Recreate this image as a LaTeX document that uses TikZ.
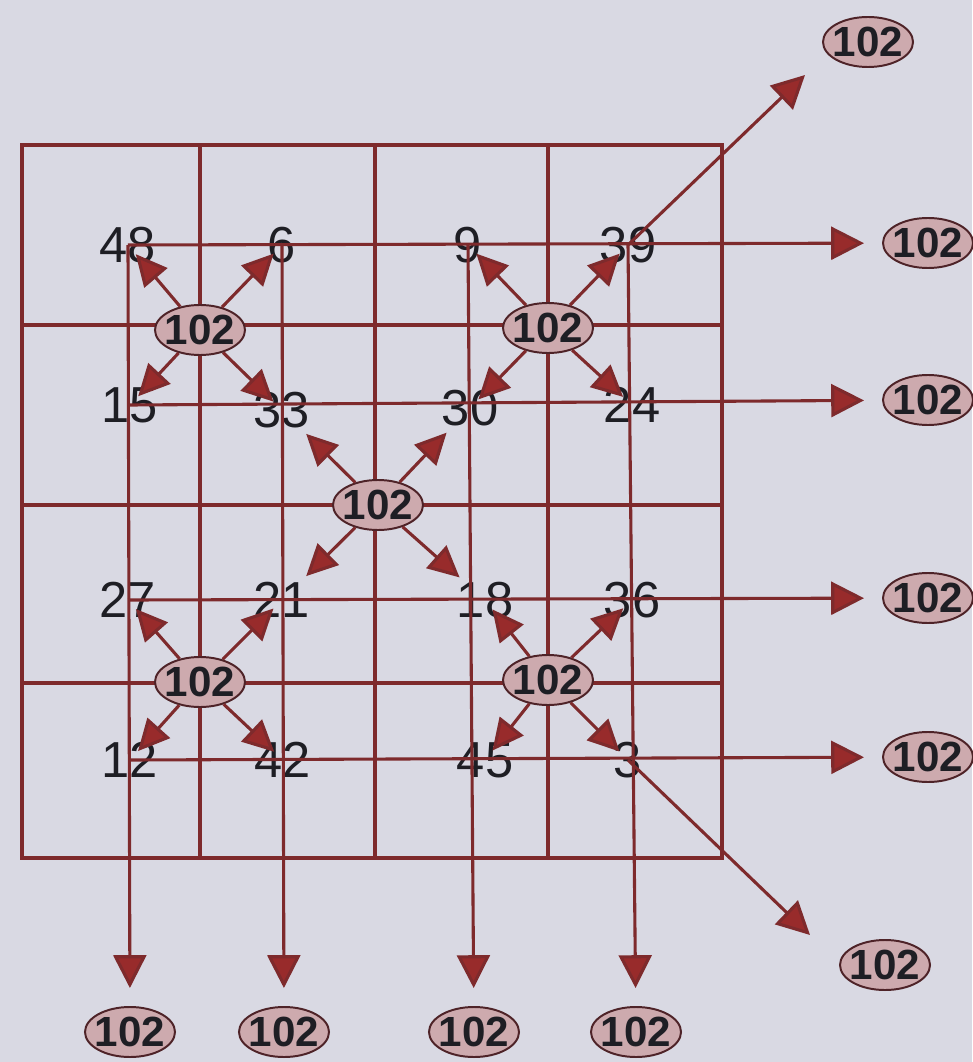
\documentclass[tikz,border=0pt]{standalone}
\usepackage{fontspec}
\setmainfont{Liberation Sans}
\usepackage{tikz}
\usetikzlibrary{positioning}
\usetikzlibrary{shapes,calc,arrows.meta}
\definecolor{paper}{HTML}{D9D9E3}
\definecolor{gridred}{HTML}{7E2A2C}
\definecolor{tipred}{HTML}{982B2B}
\definecolor{ovalfill}{HTML}{CDAAAE}
\definecolor{ovalrim}{HTML}{4E2328}
\definecolor{ink}{HTML}{1E1E24}
\tikzset{
	x = 0.025cm, y = -0.025cm,
	cell/.style = {draw=gridred, line width=2.5pt},
	num/.style = {text=ink, inner sep=0pt, font=\fontsize{36}{36}\selectfont},
	sum/.style = {ellipse, draw=ovalrim, fill=ovalfill, line width=1.4pt,
	 text=ink, inner xsep=-3pt, inner ysep=0pt,
	 minimum width=2.25cm, minimum height=1.25cm,
	 font=\bfseries\fontsize{30}{30}\selectfont},
	spoke/.style = {draw=gridred, line width=2.2pt, shorten >=0.3cm,
	 -{Triangle[length=0.78cm, width=0.75cm, fill=tipred]}},
	longspoke/.style = {spoke, shorten >=0.85cm},
	ray/.style = {spoke, shorten >=0.45cm,
	 -{Triangle[length=0.82cm, width=0.82cm, fill=tipred]}},
}

\begin{document}
\begin{tikzpicture}
	\path[use as bounding box, fill=paper] (0,0) rectangle (972,1062);
	% the 4 x 4 square
	\draw[cell] (22,145) rectangle (722,858);
	\draw[cell] (200,145) -- (200,858);
	\draw[cell] (375,145) -- (375,858);
	\draw[cell] (548,145) -- (548,858);
	\draw[cell] (22,325) -- (722,325);
	\draw[cell] (22,505) -- (722,505);
	\draw[cell] (22,683) -- (722,683);

	% numbers
	\node (N48) [num] at (128,245) {48};
	\node (N6)  [num] at (282,245) {6};
	\node (N9)  [num] at (468,245) {9};
	\node (N39) [num] at (628,245) {39};
	\node (N15) [num] at (130,405) {15};
	\node (N33) [num] at (282,410) {33};
	\node (N30) [num] at (470,408) {30};
	\node (N24) [num] at (632,405) {24};
	\node (N27) [num] at (128,600) {27};
	\node (N21) [num] at (282,600) {21};
	\node (N18) [num] at (485,600) {18};
	\node (N36) [num] at (632,600) {36};
	\node (N12) [num] at (130,760) {12};
	\node (N42) [num] at (283,760) {42};
	\node (N45) [num] at (485,760) {45};
	\node (N3)  [num] at (628,760) {3};

	% sums inside the square
	\node (SumTL) [sum] at (200,330) {102};
	\node (SumTR) [sum] at (548,328) {102};
	\node (SumC)  [sum] at (378,505) {102};
	\node (SumBL) [sum] at (200,682) {102};
	\node (SumBR) [sum] at (548,680) {102};

	% sums outside
	\node (Row1) [sum] at (928,243) {102};
	\node (Row2) [sum] at (928,400) {102};
	\node (Row3) [sum] at (928,598) {102};
	\node (Row4) [sum] at (928,757) {102};
	\node (Col1) [sum] at (130,1032) {102};
	\node (Col2) [sum] at (284,1032) {102};
	\node (Col3) [sum] at (474,1032) {102};
	\node (Col4) [sum] at (636,1032) {102};
	\node (DiagUp)   [sum] at (868,42) {102};
	\node (DiagDown) [sum] at (885,965) {102};
	\coordinate (DiagUpTip) at (805,75);
	\coordinate (DiagDownTip) at (810,935);

	% rows, columns, diagonals
	\path (N48.center) edge [ray] (Row1);
	\path (N15.center) edge [ray] (Row2);
	\path (N27.center) edge [ray] (Row3);
	\path (N12.center) edge [ray] (Row4);
	\path (N48.center) edge [ray] (Col1);
	\path (N6.center)  edge [ray] (Col2);
	\path (N9.center)  edge [ray] (Col3);
	\path (N39.center) edge [ray] (Col4);
	\path (N39.center) edge [ray, shorten >=0pt] (DiagUpTip);
	\path (N3.center)  edge [ray, shorten >=0pt] (DiagDownTip);

	% small squares
	\path (SumTL) edge [spoke] (N48.center);
	\path (SumTL) edge [spoke] (N6.center);
	\path (SumTL) edge [spoke] (N15.center);
	\path (SumTL) edge [spoke] (N33.center);
	\path (SumTR) edge [spoke] (N9.center);
	\path (SumTR) edge [spoke] (N39.center);
	\path (SumTR) edge [spoke] (N30.center);
	\path (SumTR) edge [spoke] (N24.center);
	\path (SumC) edge [longspoke] (N33.center);
	\path (SumC) edge [longspoke] (N30.center);
	\path (SumC) edge [longspoke] (N21.center);
	\path (SumC) edge [longspoke] (N18.center);
	\path (SumBL) edge [spoke] (N27.center);
	\path (SumBL) edge [spoke] (N21.center);
	\path (SumBL) edge [spoke] (N12.center);
	\path (SumBL) edge [spoke] (N42.center);
	\path (SumBR) edge [spoke] (N18.center);
	\path (SumBR) edge [spoke] (N36.center);
	\path (SumBR) edge [spoke] (N45.center);
	\path (SumBR) edge [spoke] (N3.center);
\end{tikzpicture}
\end{document}
